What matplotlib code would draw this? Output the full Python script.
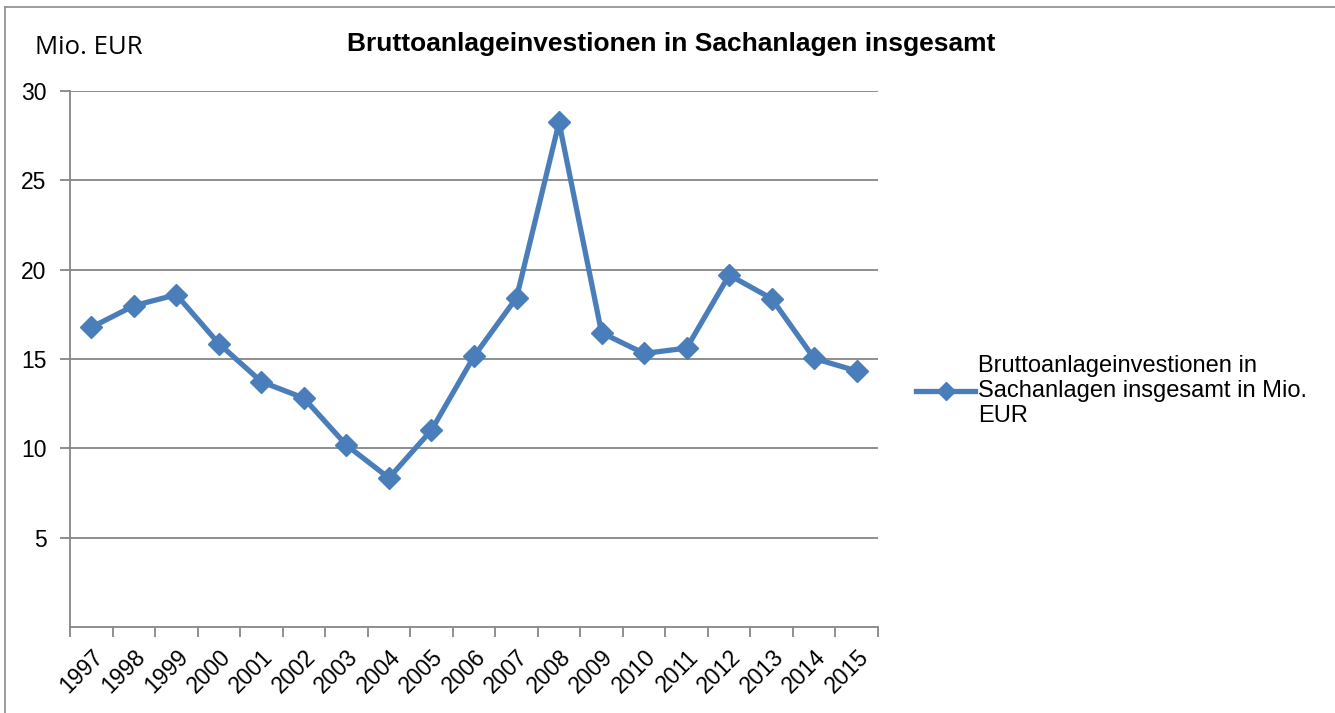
import matplotlib
matplotlib.use("Agg")
import matplotlib.pyplot as plt
from matplotlib.lines import Line2D

years = ["1997", "1998", "1999", "2000", "2001", "2002", "2003", "2004", "2005", "2006",
         "2007", "2008", "2009", "2010", "2011", "2012", "2013", "2014", "2015"]
values = [16.77, 17.98, 18.60, 15.86, 13.73, 12.81, 10.18, 8.34, 11.02, 15.15,
          18.43, 28.24, 16.47, 15.31, 15.61, 19.70, 18.38, 15.03, 14.33]
yticks = [5, 10, 15, 20, 25, 30]

title = "Bruttoanlageinvestionen in Sachanlagen insgesamt"
ylabel = "Mio. EUR"
series_label = "Bruttoanlageinvestionen in\nSachanlagen insgesamt in Mio.\nEUR"

W, H = 1335, 713
fig = plt.figure(figsize=(W / 100, H / 100), dpi=100)
ax = fig.add_axes([70 / W, 1 - 627 / H, (878 - 70) / W, (627 - 91) / H])

grid_c = "#868686"
blue = "#4A7EBB"
font = "Liberation Sans"

x = list(range(len(years)))
ax.plot(x, values, color=blue, lw=3.8, marker="D", markersize=11.5,
        markerfacecolor=blue, markeredgecolor=blue, solid_joinstyle="round", zorder=3,
        clip_on=False)

ax.set_xlim(-0.5, len(years) - 0.5)
ax.set_ylim(0, 30)
ax.set_yticks(yticks)
ax.set_yticklabels([str(v) for v in yticks], fontsize=16.5, family=font)
ax.yaxis.grid(True, color=grid_c, lw=1.3)
ax.set_axisbelow(True)

ax.set_xticks(x)
ax.set_xticklabels(years, rotation=45, ha="right", rotation_mode="anchor",
                   fontsize=16.5, family=font)
ax.set_xticks([i - 0.5 for i in range(len(years) + 1)], minor=True)
ax.tick_params(axis="x", which="major", length=0, pad=13)
ax.tick_params(axis="x", which="minor", length=7, color=grid_c, width=1.3)
ax.tick_params(axis="y", length=7, color=grid_c, width=1.3, pad=10)

for s in ["top", "right"]:
    ax.spines[s].set_visible(False)
for s in ["left", "bottom"]:
    ax.spines[s].set_color(grid_c)
    ax.spines[s].set_linewidth(1.3)

fig.text(35 / W, 1 - 48 / H, ylabel, fontsize=18.5, family="Open Sans", va="center", ha="left")
fig.text(671 / W, 1 - 44 / H, title, fontsize=19, family=font, weight="bold",
         va="center", ha="center")

handle = Line2D([], [], color=blue, lw=3.8, marker="D", markersize=9,
                markerfacecolor=blue, markeredgecolor=blue)
fig.legend([handle], [series_label], loc="center left",
           bbox_to_anchor=(916 / W, 1 - 391 / H), frameon=False,
           prop={"family": font, "size": 17}, handlelength=2.5,
           handletextpad=0.12, borderaxespad=0, borderpad=0)
leg = fig.legends[0]
for t in leg.get_texts():
    t.set_linespacing(1.15)

# outer frame lines (top and left)
fig.add_artist(Line2D([5 / W, 1], [1 - 7 / H, 1 - 7 / H], color="#8c8c8c", lw=1.2,
                      transform=fig.transFigure))
fig.add_artist(Line2D([5 / W, 5 / W], [0, 1 - 7 / H], color="#8c8c8c", lw=1.2,
                      transform=fig.transFigure))

fig.savefig("out.png", dpi=100)
